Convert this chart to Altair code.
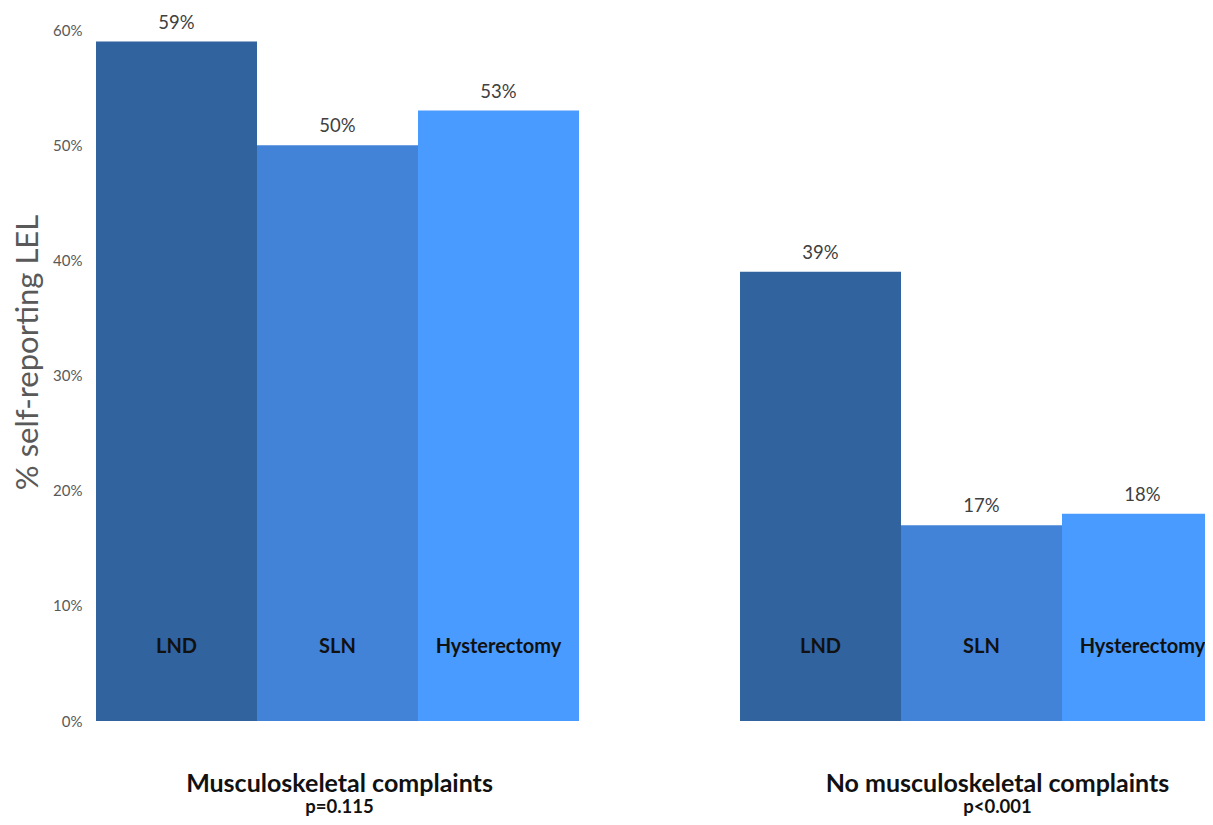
import altair as alt
import pandas as pd

groups = ["Musculoskeletal complaints", "No musculoskeletal complaints"]
pvalues = ["p=0.115", "p<0.001"]
procedures = ["LND", "SLN", "Hysterectomy"]
values_g1 = [0.59, 0.50, 0.53]
values_g2 = [0.39, 0.17, 0.18]
colors = ["#31639E", "#4283D8", "#4A9BFF"]

rows = []
for gi, vals in enumerate([values_g1, values_g2]):
    for p, v in zip(procedures, vals):
        rows.append({"slot": f"{p}_{gi}", "group": groups[gi], "procedure": p, "value": v})
df = pd.DataFrame(rows)

slots = [f"{p}_0" for p in procedures] + ["gap"] + [f"{p}_1" for p in procedures]

titles = pd.DataFrame({
    "slot": ["SLN_0", "SLN_1"],
    "group": groups,
    "p": pvalues,
})

FONT = "Lato"

x = alt.X("slot:N", scale=alt.Scale(domain=slots, range=[0, 1127], paddingInner=0, paddingOuter=0), axis=None)

bars = alt.Chart(df).mark_bar(stroke=None).encode(
    x=x,
    y=alt.Y("value:Q", scale=alt.Scale(domain=[0, 0.6], nice=False),
            axis=alt.Axis(format=".0%", values=[0, 0.1, 0.2, 0.3, 0.4, 0.5, 0.6],
                          domain=False, ticks=False, grid=False, labelPadding=14,
                          labelFont=FONT, labelFontSize=15, labelColor="#595959",
                          title="% self-reporting LEL", titleFont=FONT, titleFontSize=31,
                          titleFontWeight="normal", titleColor="#595959",
                          titleAngle=-90, titleX=-68, titleY=322, titleAlign="center",
                          titleBaseline="middle")),
    color=alt.Color("procedure:N", scale=alt.Scale(domain=procedures, range=colors), legend=None),
)

vals = alt.Chart(df).mark_text(font=FONT, fontSize=18.5, color="#404040", baseline="bottom", dy=-9).encode(
    x=x, y="value:Q", text=alt.Text("value:Q", format=".0%")
)

cats = alt.Chart(df).mark_text(font=FONT, fontSize=20, fontWeight="bold", color="#111111", baseline="middle").encode(
    x=x, y=alt.value(617), text="procedure:N"
)

layers = [bars, vals, cats]
for gi, dx in [(0, 2), (1, 16)]:
    base = alt.Chart(titles).transform_filter(alt.datum.group == groups[gi])
    layers.append(base.mark_text(font=FONT, fontSize=25, fontWeight="bold", color="#111111",
                                 baseline="alphabetic", dx=dx).encode(x=x, y=alt.value(762), text="group:N"))
    layers.append(base.mark_text(font=FONT, fontSize=18.5, fontWeight="bold", color="#111111",
                                 baseline="alphabetic", dx=dx).encode(x=x, y=alt.value(783), text="p:N"))

chart = alt.layer(*layers).properties(
    width=1109, height=691,
    autosize=alt.AutoSizeParams(type="none"),
    padding={"left": 88, "top": 22, "right": 0, "bottom": 96},
).configure_view(stroke=None)

chart.save("out.html", embed_options={"renderer": "svg", "actions": False})
